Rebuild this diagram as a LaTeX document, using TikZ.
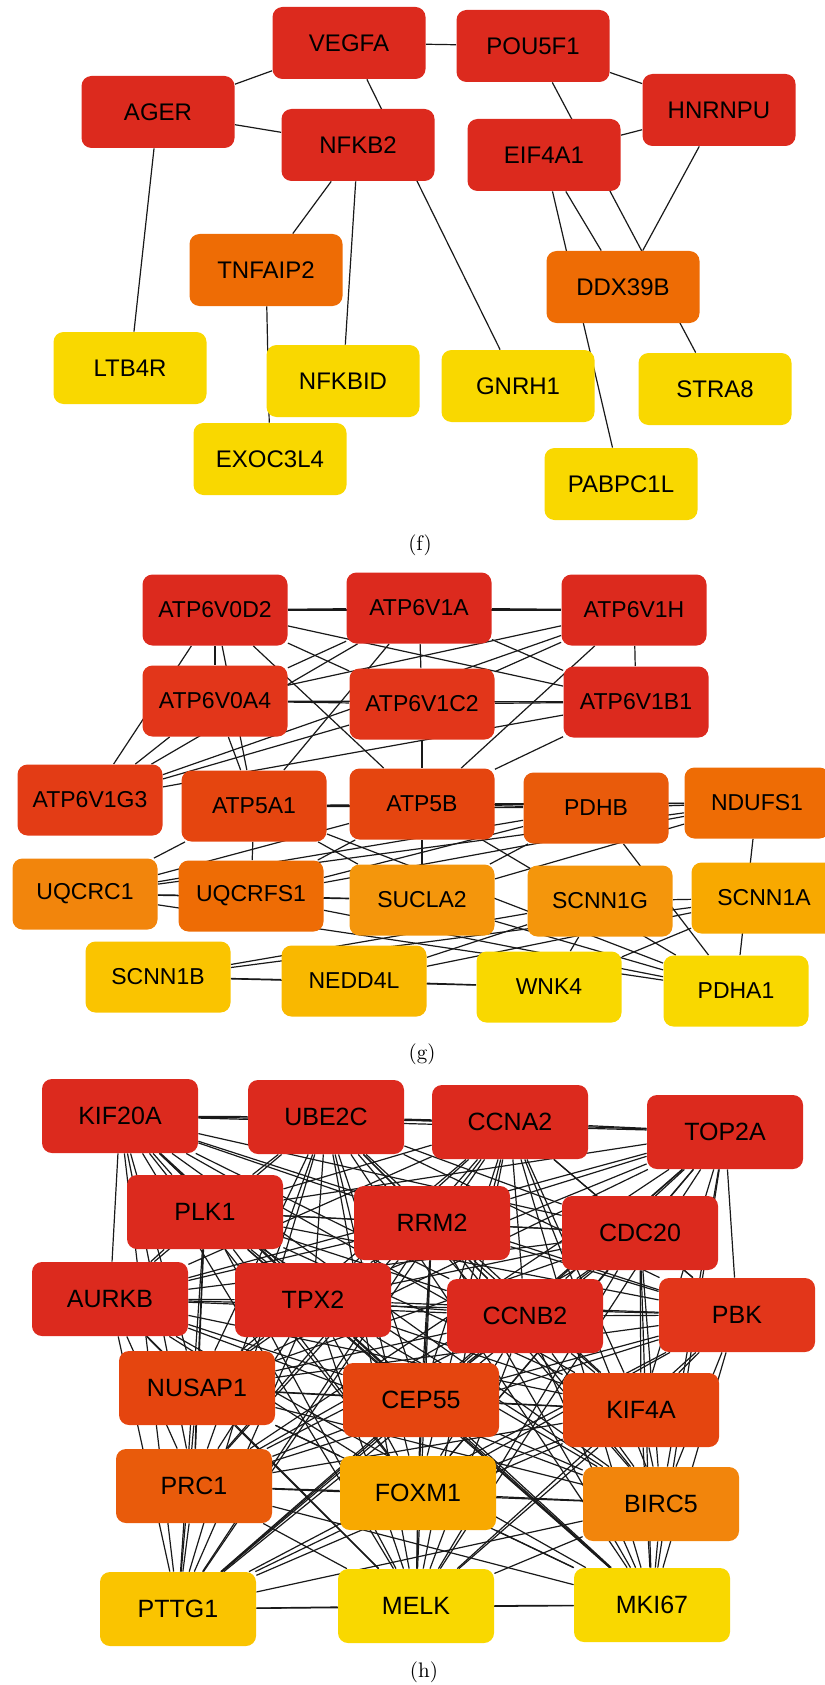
\documentclass[tikz,border=0pt]{standalone}
\usepackage{fontspec}
\setsansfont{Liberation Sans}
\usepackage{tikz}
\usetikzlibrary{backgrounds}
\definecolor{HubRed}{HTML}{DC2A1E}
\definecolor{RedA}{HTML}{E2361A}
\definecolor{RedB}{HTML}{E33C15}
\definecolor{RedOr}{HTML}{E5450F}
\definecolor{OraA}{HTML}{E95B0B}
\definecolor{OraB}{HTML}{EE6C05}
\definecolor{OraC}{HTML}{F2850C}
\definecolor{AmberA}{HTML}{F4960C}
\definecolor{AmberB}{HTML}{F8A900}
\definecolor{GoldA}{HTML}{F9B800}
\definecolor{GoldB}{HTML}{FAC400}
\definecolor{Yel}{HTML}{F9D800}
\tikzstyle{gene} = [rectangle, rounded corners=5pt, inner sep=0pt, text=black, font=\sffamily\fontsize{12}{14}\selectfont, minimum width=76.5pt, minimum height=36pt]
\tikzstyle{geneg} = [gene, font=\sffamily\fontsize{11.5}{13}\selectfont, minimum width=72.5pt, minimum height=35.5pt]
\tikzstyle{geneh} = [gene, font=\sffamily\fontsize{12.5}{14}\selectfont, minimum width=78pt, minimum height=37pt]
\tikzstyle{link} = [line width=0.6pt, color=black!90]
\tikzstyle{panel} = [font=\fontsize{10.5}{12}\selectfont]
% every pair of a list gets a link
\newcommand{\linkall}[1]{%
  \foreach \a [count=\i] in {#1}{%
    \foreach \b [count=\j] in {#1}{%
      \ifnum\j>\i \draw[link] (\a) -- (\b);\fi
    }}}

\begin{document}
\begin{tikzpicture}[x=0.5pt, y=-0.5pt]
\useasboundingbox (0,0) rectangle (824,1685);

% (f)
\node[gene, fill=HubRed] (VEGFA) at (349,43) {VEGFA};
\node[gene, fill=HubRed] (AGER) at (158,112) {AGER};
\node[gene, fill=HubRed] (NFKB2) at (358,145) {NFKB2};
\node[gene, fill=HubRed] (POU5F1) at (533,46) {POU5F1};
\node[gene, fill=HubRed] (HNRNPU) at (719,110) {HNRNPU};
\node[gene, fill=HubRed] (EIF4A1) at (544,155) {EIF4A1};
\node[gene, fill=OraB] (TNFAIP2) at (266,270) {TNFAIP2};
\node[gene, fill=OraB] (DDX39B) at (623,287) {DDX39B};
\node[gene, fill=Yel] (LTB4R) at (130,368) {LTB4R};
\node[gene, fill=Yel] (NFKBID) at (343,381) {NFKBID};
\node[gene, fill=Yel] (EXOC3L4) at (270,459) {EXOC3L4};
\node[gene, fill=Yel] (GNRH1) at (518,386) {GNRH1};
\node[gene, fill=Yel] (STRA8) at (715,389) {STRA8};
\node[gene, fill=Yel] (PABPC1L) at (621,484) {PABPC1L};
\node[panel] (capf) at (420,545) {(f)};

\begin{scope}[on background layer]
  \foreach \a/\b in {AGER/VEGFA, AGER/NFKB2, AGER/LTB4R, VEGFA/POU5F1, VEGFA/GNRH1,
      POU5F1/HNRNPU, POU5F1/STRA8, EIF4A1/HNRNPU, EIF4A1/DDX39B, EIF4A1/PABPC1L,
      HNRNPU/DDX39B, NFKB2/TNFAIP2, NFKB2/NFKBID, TNFAIP2/EXOC3L4}
    \draw[link] (\a) -- (\b);
\end{scope}

% (g)
\node[geneg, fill=HubRed] (ATP6V0D2) at (215,610) {ATP6V0D2};
\node[geneg, fill=HubRed] (ATP6V1A) at (419,608) {ATP6V1A};
\node[geneg, fill=HubRed] (ATP6V1H) at (634,610) {ATP6V1H};
\node[geneg, fill=RedA] (ATP6V0A4) at (215,701) {ATP6V0A4};
\node[geneg, fill=RedA] (ATP6V1C2) at (422,704) {ATP6V1C2};
\node[geneg, fill=HubRed] (ATP6V1B1) at (636,702) {ATP6V1B1};
\node[geneg, fill=RedB] (ATP6V1G3) at (90,800) {ATP6V1G3};
\node[geneg, fill=RedOr] (ATP5A1) at (254,806) {ATP5A1};
\node[geneg, fill=RedOr] (ATP5B) at (422,804) {ATP5B};
\node[geneg, fill=OraA] (PDHB) at (596,808) {PDHB};
\node[geneg, fill=OraB] (NDUFS1) at (757,803) {NDUFS1};
\node[geneg, fill=OraC] (UQCRC1) at (85,894) {UQCRC1};
\node[geneg, fill=OraB] (UQCRFS1) at (251,896) {UQCRFS1};
\node[geneg, fill=AmberA] (SUCLA2) at (422,900) {SUCLA2};
\node[geneg, fill=AmberA] (SCNN1G) at (600,901) {SCNN1G};
\node[geneg, fill=AmberB] (SCNN1A) at (764,898) {SCNN1A};
\node[geneg, fill=GoldB] (SCNN1B) at (158,977) {SCNN1B};
\node[geneg, fill=GoldA] (NEDD4L) at (354,981) {NEDD4L};
\node[geneg, fill=Yel] (WNK4) at (549,987) {WNK4};
\node[geneg, fill=Yel] (PDHA1) at (736,991) {PDHA1};
\node[panel] (capg) at (422,1054) {(g)};

\begin{scope}[on background layer]
  \linkall{ATP6V0D2,ATP6V1A,ATP6V1H,ATP6V0A4,ATP6V1C2,ATP6V1B1,ATP6V1G3}
  \linkall{ATP5A1,ATP5B,PDHB,NDUFS1,UQCRC1,UQCRFS1,SUCLA2,PDHA1}
  \linkall{SCNN1A,SCNN1B,SCNN1G,NEDD4L,WNK4}
  \foreach \a/\b in {ATP6V0D2/ATP5A1, ATP6V0D2/ATP5B, ATP6V0A4/ATP5A1, ATP6V1A/ATP5A1,
      ATP6V1C2/ATP5B, ATP6V1H/ATP5B, ATP6V1B1/ATP5B}
    \draw[link] (\a) -- (\b);
\end{scope}

% (h)
\node[geneh, fill=HubRed] (KIF20A) at (120,1116) {KIF20A};
\node[geneh, fill=HubRed] (UBE2C) at (326,1117) {UBE2C};
\node[geneh, fill=HubRed] (CCNA2) at (510,1122) {CCNA2};
\node[geneh, fill=HubRed] (TOP2A) at (725,1132) {TOP2A};
\node[geneh, fill=HubRed] (PLK1) at (205,1212) {PLK1};
\node[geneh, fill=HubRed] (RRM2) at (432,1223) {RRM2};
\node[geneh, fill=HubRed] (CDC20) at (640,1233) {CDC20};
\node[geneh, fill=HubRed] (AURKB) at (110,1299) {AURKB};
\node[geneh, fill=HubRed] (TPX2) at (313,1300) {TPX2};
\node[geneh, fill=HubRed] (CCNB2) at (525,1316) {CCNB2};
\node[geneh, fill=RedA] (PBK) at (737,1315) {PBK};
\node[geneh, fill=RedOr] (NUSAP1) at (197,1388) {NUSAP1};
\node[geneh, fill=RedOr] (CEP55) at (421,1400) {CEP55};
\node[geneh, fill=RedOr] (KIF4A) at (641,1410) {KIF4A};
\node[geneh, fill=OraA] (PRC1) at (194,1486) {PRC1};
\node[geneh, fill=AmberB] (FOXM1) at (418,1493) {FOXM1};
\node[geneh, fill=OraC] (BIRC5) at (661,1504) {BIRC5};
\node[geneh, fill=GoldB] (PTTG1) at (178,1609) {PTTG1};
\node[geneh, fill=Yel] (MELK) at (416,1606) {MELK};
\node[geneh, fill=Yel] (MKI67) at (652,1605) {MKI67};
\node[panel] (caph) at (424,1672) {(h)};

\begin{scope}[on background layer]
  \linkall{KIF20A,UBE2C,CCNA2,TOP2A,PLK1,RRM2,CDC20,AURKB,TPX2,CCNB2,PBK,
    NUSAP1,CEP55,KIF4A,PRC1,FOXM1,BIRC5,PTTG1,MELK,MKI67}
\end{scope}
\end{tikzpicture}
\end{document}
